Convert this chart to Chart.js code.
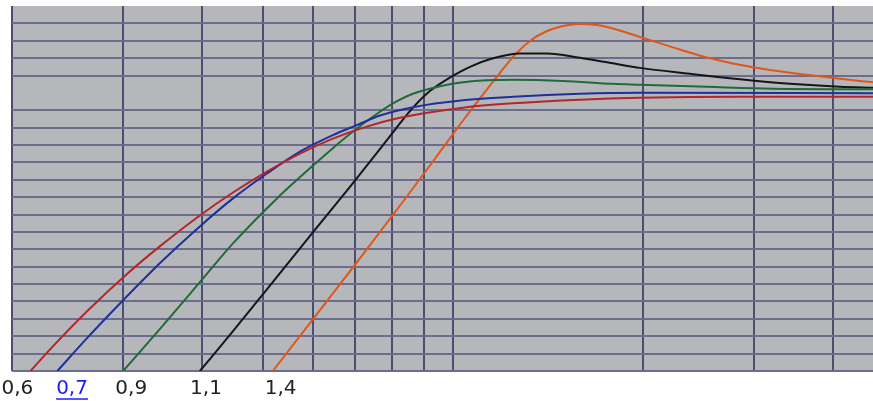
<!DOCTYPE html>
<html>
<head>
<meta charset="utf-8">
<script src="https://cdn.jsdelivr.net/npm/chart.js@4"></script>
<style>
  html, body { margin: 0; padding: 0; background: #fff; }
  #wrap { width: 873px; height: 401px; }
</style>
</head>
<body>
<div id="wrap"><canvas id="myChart" width="873" height="401"></canvas></div>
<script>
// curve labels (written under the start of each curve)
const curveLabels = ['0,6', '0,7', '0,9', '1,1', '1,4'];
const labelAt = [2.04, 2.49, 3.09, 4.06, 5.33];

// vertical grid lines (log axis)
const xGrid = [2, 3, 4, 5, 6, 7, 8, 9, 10, 20, 30, 40];
const xMin = 2, xMax = 46.3;

// series
const x06 = [2.14, 2.30, 2.66, 3.04, 3.43, 3.97, 4.48, 5.07, 5.72, 6.45, 7.30, 8.24, 10.37, 12.45, 15.89, 19.78, 28.5, 46.3];
const y06 = [0, 1.26, 3.61, 5.57, 7.17, 8.95, 10.27, 11.47, 12.51, 13.37, 14.06, 14.57, 15.15, 15.40, 15.61, 15.72, 15.78, 15.78];

const x07 = [2.36, 2.63, 3.0, 3.43, 3.97, 4.48, 5.07, 5.72, 6.45, 7.04, 7.66, 8.64, 10.37, 12.45, 15.89, 19.78, 46.3];
const y07 = [0, 1.89, 4.07, 6.20, 8.32, 9.93, 11.36, 12.62, 13.57, 14.15, 14.70, 15.18, 15.58, 15.78, 15.95, 16.01, 15.98];

const x09 = [3.0, 3.43, 3.97, 4.48, 5.26, 6.0, 6.87, 7.58, 8.15, 8.64, 9.54, 10.37, 12.45, 14.94, 17.93, 19.78, 25.26, 32.14, 46.3];
const y09 = [0, 2.41, 5.11, 7.34, 9.93, 11.82, 13.65, 14.80, 15.52, 15.95, 16.38, 16.61, 16.75, 16.69, 16.52, 16.47, 16.35, 16.24, 16.21];

const x11 = [3.97, 4.48, 5.07, 5.72, 6.04, 6.87, 7.58, 8.09, 8.64, 9.20, 9.78, 10.64, 11.57, 12.77, 14.09, 15.89, 17.93, 19.78, 23.74, 28.5, 34.2, 41.04, 46.3];
const y11 = [0, 2.29, 4.70, 7.06, 8.12, 10.61, 12.56, 13.88, 15.15, 16.12, 16.78, 17.50, 17.99, 18.27, 18.27, 18.02, 17.70, 17.44, 17.10, 16.78, 16.52, 16.35, 16.29];

const x14 = [5.18, 6.0, 7.04, 8.45, 9.54, 10.45, 11.24, 11.87, 12.45, 13.24, 14.09, 14.94, 15.89, 16.91, 17.93, 19.78, 22.31, 25.26, 29.88, 36.39, 41.04, 46.3];
const y14 = [0, 2.98, 6.25, 10.04, 12.62, 14.57, 16.06, 17.15, 18.07, 18.99, 19.56, 19.85, 19.97, 19.91, 19.71, 19.22, 18.62, 18.04, 17.47, 17.04, 16.81, 16.61];

const colors = ['#b3262b', '#1f2f9c', '#1f6b37', '#161616', '#e0561c'];

function pts(xs, ys) {
  return xs.map((x, i) => ({ x: x, y: ys[i] }));
}

const series = [[x06, y06], [x07, y07], [x09, y09], [x11, y11], [x14, y14]];

const plotBg = {
  id: 'plotBg',
  beforeDraw(chart) {
    const { ctx, chartArea: a } = chart;
    ctx.save();
    ctx.fillStyle = '#b6b7ba';
    ctx.fillRect(a.left, a.top, a.right - a.left, a.bottom - a.top);
    ctx.restore();
  }
};

// underline the blue label, like a link
const underline = {
  id: 'underline',
  afterDraw(chart) {
    const s = chart.scales.x2;
    const ctx = chart.ctx;
    ctx.save();
    ctx.font = '20px "DejaVu Sans"';
    const w = ctx.measureText(curveLabels[1]).width;
    const px = s.getPixelForValue(labelAt[1]);
    ctx.strokeStyle = '#1a1aff';
    ctx.lineWidth = 1.5;
    ctx.beginPath();
    ctx.moveTo(px - w / 2, 399);
    ctx.lineTo(px + w / 2, 399);
    ctx.stroke();
    ctx.restore();
  }
};

const ctx = document.getElementById('myChart').getContext('2d');
const chart = new Chart(ctx, {
  type: 'line',
  data: {
    datasets: series.map((s, i) => ({
      label: curveLabels[i],
      data: pts(s[0], s[1]),
      borderColor: colors[i],
      borderWidth: 2,
      pointRadius: 0,
      fill: false,
      cubicInterpolationMode: 'monotone'
    }))
  },
  options: {
    responsive: false,
    animation: false,
    layout: { padding: { left: 12, top: 6, right: 0, bottom: -6 } },
    plugins: { legend: { display: false }, tooltip: { enabled: false } },
    scales: {
      x: {
        type: 'logarithmic',
        position: 'top',
        min: xMin,
        max: xMax,
        afterBuildTicks: (sc) => { sc.ticks = xGrid.map(v => ({ value: v })); },
        ticks: { display: false },
        border: { display: false },
        grid: { drawTicks: false, color: '#4d4d72', lineWidth: 2 }
      },
      x2: {
        type: 'logarithmic',
        position: 'bottom',
        min: xMin,
        max: xMax,
        afterBuildTicks: (sc) => { sc.ticks = labelAt.map(v => ({ value: v })); },
        afterFit: (sc) => { sc.paddingLeft = 0; sc.paddingRight = 0; },
        ticks: {
          autoSkip: false,
          maxRotation: 0,
          padding: 6,
          font: { family: 'DejaVu Sans', size: 20 },
          color: (c) => c.index === 1 ? '#1a1aff' : '#222',
          callback: (v, i) => curveLabels[i]
        },
        border: { display: false },
        grid: { display: false, drawTicks: false }
      },
      y: {
        min: 0,
        max: 21,
        ticks: { display: false, stepSize: 1 },
        border: { display: false },
        grid: {
          drawTicks: false,
          lineWidth: 2,
          color: (c) => (c.tick.value === 16 || c.tick.value === 21) ? 'rgba(0,0,0,0)' : '#6c6c8c'
        }
      }
    }
  },
  plugins: [plotBg, underline]
});
</script>
</body>
</html>
